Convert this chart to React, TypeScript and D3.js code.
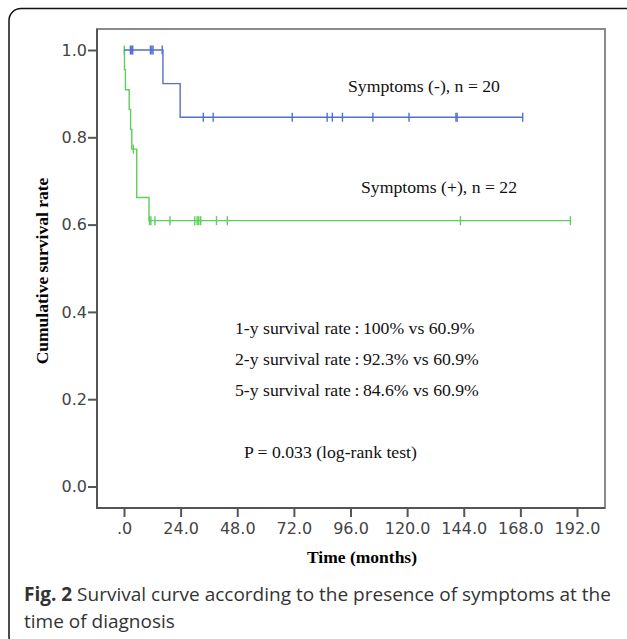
import React, { useRef, useEffect } from 'react';
import * as d3 from 'd3';

// survival steps (time in months, cumulative survival)
const negSteps = [
  { t: 0, s: 1.0 },
  { t: 16.5, s: 0.923 },
  { t: 23.8, s: 0.846 },
];
const negEnd = 169;
const negCensored = [2.7, 3.3, 3.7, 11.2, 11.8, 12.3, 16.2, 33.6, 37.8, 71.3, 86.1, 88.3, 92.6, 105.5, 120.8, 140.7, 141.2, 169.0];

const posSteps = [
  { t: 0, s: 1.0 },
  { t: 0.2, s: 0.955 },
  { t: 0.6, s: 0.909 },
  { t: 2.2, s: 0.864 },
  { t: 2.8, s: 0.818 },
  { t: 3.3, s: 0.773 },
  { t: 5.4, s: 0.662 },
  { t: 10.6, s: 0.609 },
];
const posEnd = 189.2;
const posCensored = [0.1, 3.95, 10.8, 11.4, 13.1, 19.5, 30.0, 31.0, 31.7, 32.5, 39.2, 43.8, 142.6, 189.2];

const xTicks = [0, 24, 48, 72, 96, 120, 144, 168, 192];
const yTicks = [0, 0.2, 0.4, 0.6, 0.8, 1.0];

const rateLines = [
  '1-y survival rate\u2009:\u2009100% vs 60.9%',
  '2-y survival rate\u2009:\u200992.3% vs 60.9%',
  '5-y survival rate\u2009:\u200984.6% vs 60.9%',
];

function App() {
  const ref = useRef(null);

  useEffect(() => {
    const svg = d3.select(ref.current);
    svg.selectAll('*').remove();

    const left = 97, right = 605, top = 29, bottom = 508;
    const x = d3.scaleLinear().domain([0, 192]).range([124, 577]);
    const y = d3.scaleLinear().domain([0, 1]).range([486.5, 50]);

    // outer figure frame (only top/left visible)
    svg.append('rect')
      .attr('x', 9).attr('y', 8.5)
      .attr('width', 660).attr('height', 640)
      .attr('rx', 12)
      .attr('fill', 'none')
      .attr('stroke', '#111')
      .attr('stroke-width', 1.5);

    // plot box
    svg.append('rect')
      .attr('x', left).attr('y', top)
      .attr('width', right - left).attr('height', bottom - top)
      .attr('fill', 'none')
      .attr('stroke', '#8a8a8a')
      .attr('stroke-width', 2);
    svg.append('path')
      .attr('d', `M${left},${top}V${bottom}H${right}`)
      .attr('fill', 'none')
      .attr('stroke', '#555')
      .attr('stroke-width', 2);

    const tickFont = '"DejaVu Sans", sans-serif';

    // y axis
    const yAxis = svg.append('g')
      .attr('transform', `translate(${left},0)`)
      .call(d3.axisLeft(y).tickValues(yTicks).tickFormat(d3.format('.1f')).tickSize(9).tickPadding(1));
    yAxis.select('.domain').remove();
    yAxis.selectAll('line').attr('stroke', '#555').attr('stroke-width', 2);
    yAxis.selectAll('text')
      .attr('font-family', tickFont).attr('font-size', 16).attr('fill', '#444');

    // x axis
    const xAxis = svg.append('g')
      .attr('transform', `translate(0,${bottom})`)
      .call(d3.axisBottom(x).tickValues(xTicks)
        .tickFormat((d) => (d === 0 ? '.0' : d3.format('.1f')(d)))
        .tickSize(9).tickPadding(6));
    xAxis.select('.domain').remove();
    xAxis.selectAll('line').attr('stroke', '#555').attr('stroke-width', 2);
    xAxis.selectAll('text')
      .attr('font-family', tickFont).attr('font-size', 16).attr('fill', '#444');

    const serif = '"Liberation Serif", "Times New Roman", serif';

    svg.append('text')
      .attr('transform', 'rotate(-90)')
      .attr('x', -271).attr('y', 48)
      .attr('text-anchor', 'middle')
      .attr('font-family', serif).attr('font-weight', 'bold').attr('font-size', 17.5)
      .text('Cumulative survival rate');

    svg.append('text')
      .attr('x', 362).attr('y', 563)
      .attr('text-anchor', 'middle')
      .attr('font-family', serif).attr('font-weight', 'bold').attr('font-size', 17.5)
      .text('Time (months)');

    const line = d3.line()
      .x((d) => x(d.t))
      .y((d) => y(d.s))
      .curve(d3.curveStepAfter);

    const survivalAt = (steps, t) => {
      let s = steps[0].s;
      steps.forEach((p) => { if (p.t <= t) s = p.s; });
      return s;
    };

    const drawCurve = (steps, end, censored, color) => {
      const pts = [...steps, { t: end, s: steps[steps.length - 1].s }];
      svg.append('path')
        .datum(pts)
        .attr('fill', 'none')
        .attr('stroke', color)
        .attr('stroke-width', 1.4)
        .attr('d', line);
      svg.append('g').selectAll('path')
        .data(censored)
        .join('path')
        .attr('d', (t) => {
          const cx = x(t), cy = y(survivalAt(steps, t));
          return `M${cx},${cy - 4.5}V${cy + 4.5}`;
        })
        .attr('stroke', color)
        .attr('stroke-width', 1.4);
    };

    drawCurve(posSteps, posEnd, posCensored, '#5ccf5c');
    drawCurve(negSteps, negEnd, negCensored, '#5270d0');

    const label = (tx, ty, str) =>
      svg.append('text')
        .attr('x', tx).attr('y', ty)
        .attr('font-family', serif).attr('font-size', 17.7).attr('fill', '#111')
        .text(str);

    label(348, 92, 'Symptoms (-), n = 20');
    label(361, 193, 'Symptoms (+), n = 22');
    rateLines.forEach((s, i) => label(235, 334 + i * 31, s));
    label(244, 458, 'P = 0.033 (log-rank test)');

    // caption
    const capFont = '"Open Sans", sans-serif';
    const cap = svg.append('text')
      .attr('x', 24).attr('y', 601)
      .attr('font-family', capFont).attr('font-size', 19).attr('fill', '#333');
    cap.append('tspan').attr('font-weight', 'bold').text('Fig. 2');
    cap.append('tspan').text(' Survival curve according to the presence of symptoms at the');
    svg.append('text')
      .attr('x', 24).attr('y', 628)
      .attr('font-family', capFont).attr('font-size', 19).attr('fill', '#333')
      .text('time of diagnosis');
  }, []);

  return (
    <svg
      ref={ref}
      width={627}
      height={639}
      style={{ position: 'absolute', left: 0, top: 0, background: '#fff' }}
    />
  );
}

export default App;
